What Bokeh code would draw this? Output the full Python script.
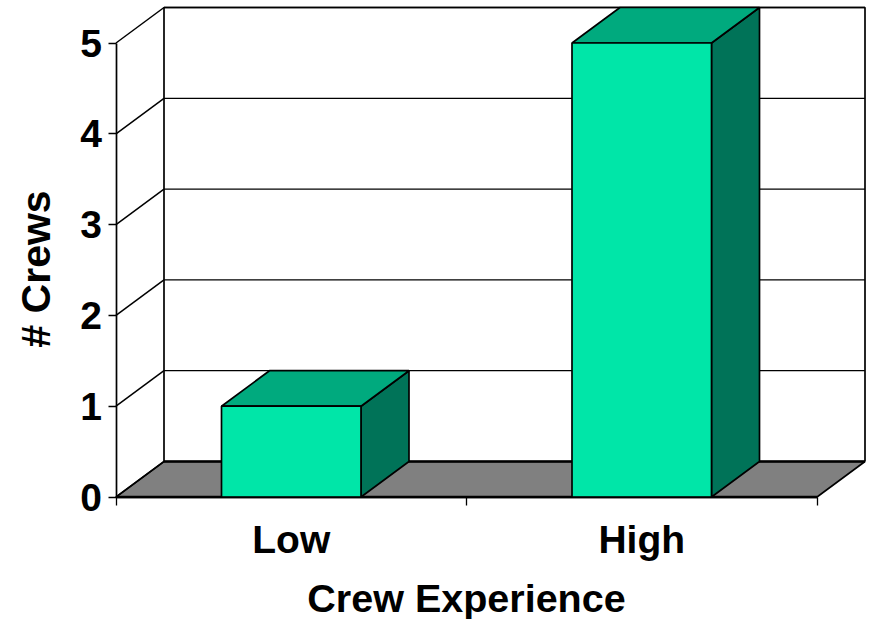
from bokeh.embed import file_html
from bokeh.models import FixedTicker, LinearAxis
from bokeh.core.properties import value
from bokeh.plotting import figure
from bokeh.resources import INLINE

# Chart data
categories = ["Low", "High"]
crews = [1, 5]
y_ticks = [0, 1, 2, 3, 4, 5]
x_title = "Crew Experience"
y_title = "# Crews"

# Scale: pixels per data unit, and the oblique offset of the 3D box
PX_X = 350.5
PX_Y = 90.8
DX = 48 / PX_X
DY = 35.5 / PX_Y
BAR_W = 0.398
ORIGIN_X = 115.5
ORIGIN_Y = 496.5
W, H = 872, 619

FONT = "Liberation Sans"
SIZE = "39px"
FRONT, TOP, SIDE = "#00E6A8", "#00AA7E", "#007358"

p = figure(
    width=W, height=H, output_backend="svg", toolbar_location=None,
    x_range=(-ORIGIN_X / PX_X, (W - ORIGIN_X) / PX_X),
    y_range=(-(H - ORIGIN_Y) / PX_Y, ORIGIN_Y / PX_Y),
    x_axis_type=None, y_axis_type=None,
    min_border=0, outline_line_color=None, background_fill_color="white",
)
p.grid.visible = False

n = len(categories)
ymax = max(y_ticks)

# Floor
p.patch([0, n, n + DX, DX], [0, 0, DY, DY], fill_color="#808080", line_color="black", line_width=1.6)
# Back wall outline and its gridlines
p.segment([DX] * ymax, [t + DY for t in y_ticks[1:]], [n + DX] * ymax, [t + DY for t in y_ticks[1:]],
          line_color="black", line_width=1.3)
p.line([DX, DX, n + DX, n + DX], [DY, ymax + DY, ymax + DY, DY], line_color="black", line_width=1.7)
p.line([DX, n + DX], [DY, DY], line_color="black", line_width=2.4)
# Oblique lines along the left wall
p.segment([0] * len(y_ticks), y_ticks, [DX] * len(y_ticks), [t + DY for t in y_ticks],
          line_color="black", line_width=1.5)
p.line([0, n], [0, 0], line_color="black", line_width=2.4)

# Bars: side, top and front faces
for i, v in enumerate(crews):
    x0 = i + 0.5 - BAR_W / 2
    x1 = i + 0.5 + BAR_W / 2
    p.patch([x1, x1 + DX, x1 + DX, x1], [0, DY, v + DY, v], fill_color=SIDE, line_color="black", line_width=1.7)
    p.patch([x0, x1, x1 + DX, x0 + DX], [v, v, v + DY, v + DY], fill_color=TOP, line_color="black", line_width=1.7)
    p.patch([x0, x1, x1, x0], [0, 0, v, v], fill_color=FRONT, line_color="black", line_width=1.7)

# Axes pinned to the data origin
ya = LinearAxis(fixed_location=0, ticker=FixedTicker(ticks=y_ticks), bounds=(0, ymax))
ya.major_tick_out = 8
ya.major_tick_in = 0
ya.minor_tick_line_color = None
ya.axis_line_width = 1.7
ya.major_tick_line_width = 1.3
ya.major_label_text_font = FONT
ya.major_label_text_font_style = "bold"
ya.major_label_text_font_size = SIZE
ya.major_label_text_color = "black"
ya.major_label_standoff = 6
p.add_layout(ya, "left")

xa = LinearAxis(
    fixed_location=0,
    ticker=FixedTicker(ticks=[i + 0.5 for i in range(n)], minor_ticks=list(range(n + 1))),
    bounds=(0, n),
)
xa.major_label_overrides = {i + 0.5: c for i, c in enumerate(categories)}
xa.major_tick_line_color = None
xa.major_tick_out = 0
xa.major_tick_in = 0
xa.minor_tick_out = 8
xa.minor_tick_in = 0
xa.minor_tick_line_width = 1.3
xa.axis_line_width = 1.7
xa.major_label_text_font = FONT
xa.major_label_text_font_style = "bold"
xa.major_label_text_font_size = SIZE
xa.major_label_text_color = "black"
xa.major_label_standoff = 13
p.add_layout(xa, "below")

# Axis titles
p.text([n / 2], [-100.5 / PX_Y], text=[x_title], text_align="center", text_baseline="middle",
       text_font=value(FONT), text_font_style="bold", text_font_size="39.5px", text_color="black")
p.text([-80 / PX_X], [228 / PX_Y], text=[y_title], text_align="center", text_baseline="middle",
       angle=90, angle_units="deg",
       text_font=value(FONT), text_font_style="bold", text_font_size="41px", text_color="black")

open("out.html", "w").write(file_html(p, INLINE))
